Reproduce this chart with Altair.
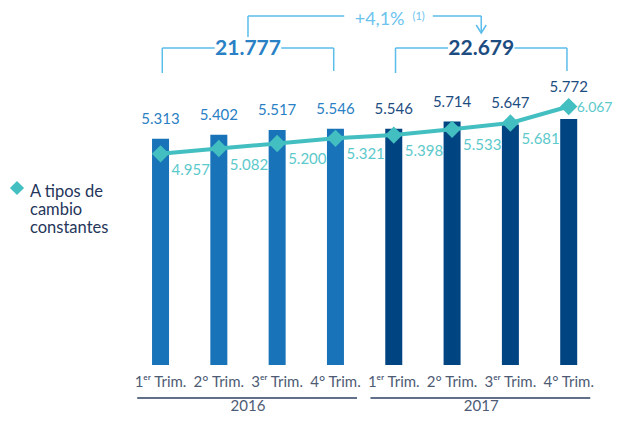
import altair as alt
import pandas as pd
import numpy as np

# ---------------- data ----------------
quarters = ["1ᵉʳ Trim.", "2° Trim.", "3ᵉʳ Trim.", "4° Trim.",
            "1ᵉʳ Trim.", "2° Trim.", "3ᵉʳ Trim.", "4° Trim."]
years = ["2016", "2016", "2016", "2016", "2017", "2017", "2017", "2017"]
reported = [5313, 5402, 5517, 5546, 5546, 5714, 5647, 5772]
constant_fx = [4957, 5082, 5200, 5321, 5398, 5533, 5681, 6067]
year_names = ["2016", "2017"]
year_totals = [21777, 22679]
growth_label = "+4,1%"
growth_note = "(1)"
series_name = "A tipos de\ncambio\nconstantes"


def es(n):
    return f"{n:,}".replace(",", ".")


df = pd.DataFrame({
    "idx": np.arange(len(reported)),
    "quarter": quarters,
    "year": years,
    "value": reported,
    "constant": constant_fx,
    "vlabel": [es(v) for v in reported],
    "clabel": [es(v) for v in constant_fx],
})

idx_arr = np.arange(len(reported))
yrs = np.array(years)
grp = pd.DataFrame({
    "year": year_names,
    "total": [es(t) for t in year_totals],
    "first": [idx_arr[yrs == y].min() for y in year_names],
    "last": [idx_arr[yrs == y].max() for y in year_names],
})
grp["mid"] = (grp["first"] + grp["last"]) / 2

top = pd.DataFrame({
    "left": [grp["mid"].iloc[0]],
    "right": [grp["mid"].iloc[1]],
    "label": [growth_label],
    "note": [growth_note],
})
top["mid"] = (top["left"] + top["right"]) / 2

legend_df = pd.DataFrame({"name": [series_name]})

# ---------------- styles ----------------
FONT = "Lato"
C16 = "#1973B8"
C17 = "#004481"
C16_TXT = "#2A80C4"
C17_TXT = "#1D4C80"
LINE = "#43BFC1"
LINE_TXT = "#5CC9CB"
BRACKET = "#5BBDEA"
AXIS_TXT = "#4E5B74"
SEP = "#2E3F62"
LEG_TXT = "#25365A"

W, H = 606, 408
XDOM = [-2.530, 7.691]
YDOM = [-1197, 8380]


def X(field):
    return alt.X(field, type="quantitative",
                 scale=alt.Scale(domain=XDOM, nice=False, zero=False), axis=None)


def Y(field):
    return alt.Y(field, type="quantitative",
                 scale=alt.Scale(domain=YDOM, nice=False, zero=False), axis=None)


year_color = alt.condition(alt.datum.year == "2016", alt.value(C16), alt.value(C17))
year_txt = alt.condition(alt.datum.year == "2016", alt.value(C16_TXT), alt.value(C17_TXT))

base = alt.Chart(df)

bars = base.mark_bar(size=17).encode(
    x=X("idx"), y=Y("value"), y2=alt.datum(0), color=year_color)

bar_labels = base.transform_calculate(
    top="max(datum.value, datum.constant)"
).mark_text(dy=-20, fontSize=15, font=FONT, baseline="middle").encode(
    x=X("idx"), y=Y("top"), text="vlabel:N", color=year_txt)

line = base.mark_line(color=LINE, strokeWidth=4).encode(x=X("idx"), y=Y("constant"))
pts = base.mark_point(shape="diamond", filled=True, size=300, color=LINE, opacity=1).encode(
    x=X("idx"), y=Y("constant"))

line_labels = base.transform_filter(alt.datum.idx < 7).mark_text(
    dx=11, dy=16, align="left", baseline="middle", fontSize=15, font=FONT, color=LINE_TXT
).encode(x=X("idx"), y=Y("constant"), text="clabel:N")
line_label_last = base.transform_filter(alt.datum.idx == 7).mark_text(
    dx=8, dy=1, align="left", baseline="middle", fontSize=14, font=FONT, color=LINE_TXT
).encode(x=X("idx"), y=Y("constant"), text="clabel:N")

xlabels = base.mark_text(fontSize=15, font=FONT, color=AXIS_TXT, baseline="middle").encode(
    x=X("idx"), y=alt.value(374), text="quarter:N")

g = alt.Chart(grp).transform_calculate(
    lo="datum.first - 0.4", hi="datum.last + 0.37",
    gl="datum.mid - 0.57", gr="datum.mid + 0.57",
    f2="datum.first + 0.03", l2="datum.last - 0.03")

sep = g.mark_rule(color=SEP, strokeWidth=1.3).encode(
    x=X("lo:Q"), x2="hi:Q", y=alt.value(390))
year_txt_marks = g.mark_text(fontSize=15, font=FONT, color=AXIS_TXT, baseline="alphabetic").encode(
    x=X("mid:Q"), text="year:N", y=alt.value(403))

br_h1 = g.mark_rule(color=BRACKET, strokeWidth=1.5).encode(x=X("f2:Q"), x2="gl:Q", y=alt.value(40))
br_h2 = g.mark_rule(color=BRACKET, strokeWidth=1.5).encode(x=X("gr:Q"), x2="l2:Q", y=alt.value(40))
br_v1 = g.mark_rule(color=BRACKET, strokeWidth=1.5).encode(x=X("f2:Q"), y=alt.value(40), y2=alt.value(65))
br_v2 = g.mark_rule(color=BRACKET, strokeWidth=1.5).encode(x=X("l2:Q"), y=alt.value(40), y2=alt.value(63))
totals = g.mark_text(fontSize=21, fontWeight="bold", font=FONT, baseline="middle").encode(
    x=X("mid:Q"), y=alt.value(41), text="total:N", color=year_txt)

t = alt.Chart(top).transform_calculate(
    gl="datum.mid - 0.35", gr="datum.mid + 1.17")
top_v1 = t.mark_rule(color=BRACKET, strokeWidth=1.5).encode(x=X("left:Q"), y=alt.value(8), y2=alt.value(29))
top_h1 = t.mark_rule(color=BRACKET, strokeWidth=1.5).encode(x=X("left:Q"), x2="gl:Q", y=alt.value(8))
top_h2 = t.mark_rule(color=BRACKET, strokeWidth=1.5).encode(x=X("gr:Q"), x2="right:Q", y=alt.value(8))
top_v2 = t.mark_rule(color=BRACKET, strokeWidth=1.5).encode(x=X("right:Q"), y=alt.value(8), y2=alt.value(25))
arrow = t.mark_point(shape="M-1,-1.6L0,0L1,-1.6", filled=False, size=100, color=BRACKET,
                     strokeWidth=1.5, opacity=1).encode(x=X("right:Q"), y=alt.value(25))
top_text = t.mark_text(fontSize=18, font=FONT, color="#6CC3EE", baseline="middle", dx=15).encode(
    x=X("mid:Q"), y=alt.value(12), text="label:N")
top_note = t.mark_text(fontSize=11, font=FONT, color="#6CC3EE", baseline="middle", dx=54).encode(
    x=X("mid:Q"), y=alt.value(9), text="note:N")

leg = alt.Chart(legend_df)
leg_pt = leg.mark_point(shape="diamond", filled=True, size=200, color=LINE, opacity=1).encode(
    x=alt.value(9), y=alt.value(180))
leg_txt = leg.mark_text(align="left", baseline="middle", fontSize=16.5, font=FONT, color=LEG_TXT,
                        lineBreak="\n", lineHeight=18).encode(
    x=alt.value(22), y=alt.value(184), text="name:N")

chart = alt.layer(
    bars, line, pts, bar_labels, line_labels, line_label_last, xlabels,
    sep, year_txt_marks, br_h1, br_h2, br_v1, br_v2, totals,
    top_v1, top_h1, top_h2, top_v2, arrow, top_text, top_note,
    leg_pt, leg_txt,
).properties(
    width=W, height=H, autosize=alt.AutoSizeParams(type="none"), padding=0,
    background="white",
).configure_view(stroke=None)

chart.save("out.html", embed_options={"renderer": "svg", "actions": False})
